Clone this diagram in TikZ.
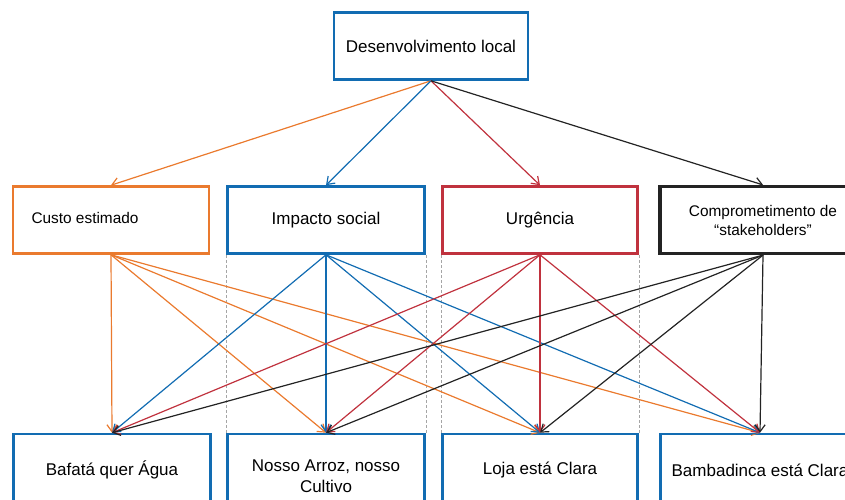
\documentclass[tikz,border=0pt]{standalone}
\usepackage{fontspec}
\setmainfont{Liberation Sans}
\usetikzlibrary{arrows.meta}
\definecolor{corange}{RGB}{234,122,46}
\definecolor{cblue}{RGB}{18,108,178}
\definecolor{cred}{RGB}{192,50,62}
\definecolor{cblack}{RGB}{35,35,35}
\definecolor{cgray}{RGB}{165,165,165}
\begin{document}
\begin{tikzpicture}[x=1pt,y=-1pt,
  box/.style={draw, line width=2.6pt, minimum width=196pt, minimum height=67pt,
    inner sep=0pt, align=center, fill=white, font=\fontsize{17}{21}\selectfont},
  smalltext/.style={font=\fontsize{15.4}{19}\selectfont},
  conn/.style={line width=1.2pt, -{Straight Barb[length=7pt,width=10pt]}},
  guide/.style={draw=cgray, line width=0.6pt, dash pattern=on 3pt off 2pt}]
\useasboundingbox (0,0) rectangle (845,499);
\clip (0,0) rectangle (845,499);

% top
\node[box, draw=cblue, minimum width=194pt] (top) at (431,46) {Desenvolvimento local};

% middle row
\node[box, draw=corange] (custo) at (111,220) {};
\node[smalltext] (custoT) at (85,218) {Custo estimado};
\node[box, draw=cblue, minimum width=197pt] (imp) at (326,220) {Impacto social};
\node[box, draw=cred, minimum width=195pt] (urg) at (540,220) {Urgência};
\node[box, draw=cblack, line width=3.2pt, minimum width=206pt, smalltext] (comp) at (763,220)
  {Comprometimento de\\“stakeholders”};

% bottom row
\node[box, draw=cblue, minimum height=72pt, minimum width=197pt] (baf) at (112,470) {Bafatá quer Água};
\node[box, draw=cblue, minimum height=72pt, minimum width=197pt] (nosso) at (326,470) {};
\node (nossoT) at (326,476.5) [align=center, font=\fontsize{17}{21}\selectfont] {Nosso Arroz, nosso\\Cultivo};
\node[box, draw=cblue, minimum height=72pt, minimum width=195pt] (loja) at (540,470) {Loja está Clara};
\node[box, draw=cblue, minimum height=72pt, minimum width=199pt] (bamb) at (760,470) {Bambadinca está Clara};

% dashed guides
\draw[guide] (imp.south west) -- (nosso.north west);
\draw[guide] (imp.south east) -- (nosso.north east);
\draw[guide] (urg.south west) -- (loja.north west);
\draw[guide] (urg.south east) -- (loja.north east);

% top to middle
\draw[conn, corange] (top.south) -- (custo.north);
\draw[conn, cblue] (top.south) -- (imp.north);
\draw[conn, cred] (top.south) -- (urg.north);
\draw[conn, cblack] (top.south) -- (comp.north);

% middle to bottom
\foreach \m/\c in {custo/corange, imp/cblue, urg/cred, comp/cblack}{
  \foreach \b in {baf, nosso, loja, bamb}{
    \draw[conn, \c] (\m.south) -- (\b.north);
  }
}
\end{tikzpicture}
\end{document}
